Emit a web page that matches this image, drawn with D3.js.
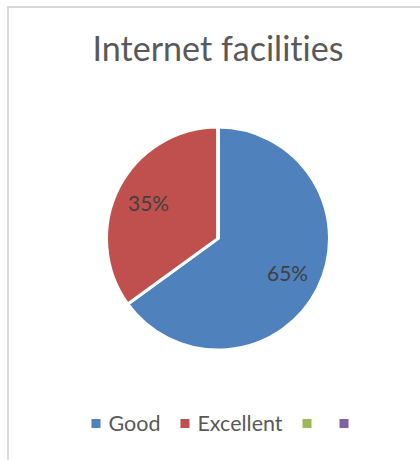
<!DOCTYPE html>
<html>
<head>
<meta charset="utf-8">
<script src="https://cdn.jsdelivr.net/npm/d3@7"></script>
<style>
  body { margin: 0; background: #fff; }
  text { font-family: Lato, "Open Sans", sans-serif; font-variant-ligatures: none; font-feature-settings: "liga" 0; }
</style>
</head>
<body>
<div class="root"></div>
<script>
var title = 'Internet facilities';
var categories = ['Good', 'Excellent', '', ''];
var values = [65, 35, 0, 0];
var colors = ['#4f81bd', '#c0504d', '#9bbb59', '#8064a2'];

function fitFont(sel, target) {
  var w = sel.node().getComputedTextLength();
  var size = parseFloat(sel.attr('font-size'));
  sel.attr('font-size', size * target / w);
}

function runChart() {
  var w = 420;
  var h = 460;
  var cx = 218, cy = 238.5, r = 111.5;

  var svg = d3.select('.root').append('svg')
    .attr('width', w)
    .attr('height', h);

  // chart frame (only top and left edges fall inside the view)
  svg.append('rect')
    .attr('x', 8)
    .attr('y', 7)
    .attr('width', 600)
    .attr('height', 600)
    .attr('fill', 'none')
    .attr('stroke', '#d9d9d9')
    .attr('stroke-width', 2);

  var t = svg.append('text')
    .attr('x', 218)
    .attr('y', 61)
    .attr('text-anchor', 'middle')
    .attr('font-size', 30)
    .attr('fill', '#595959')
    .text(title);
  fitFont(t, 251);

  var data = categories.map(function(c, i) {
    return {name: c, value: values[i], color: colors[i]};
  });

  var pie = d3.pie()
    .sort(null)
    .value(function(d) { return d.value; });

  var arcs = pie(data);
  var total = d3.sum(values);

  var arc = d3.arc().innerRadius(0).outerRadius(r);
  var labelArc = d3.arc().innerRadius(78).outerRadius(78);

  var g = svg.append('g')
    .attr('transform', 'translate(' + cx + ',' + cy + ')');

  g.selectAll('path')
    .data(arcs)
    .enter().append('path')
      .attr('d', arc)
      .attr('fill', function(d) { return d.data.color; })
      .attr('stroke', '#fff')
      .attr('stroke-width', 3)
      .attr('stroke-linejoin', 'miter');

  var labels = g.selectAll('text.lbl')
    .data(arcs.filter(function(d) { return d.data.value > 0; }))
    .enter().append('text')
      .attr('class', 'lbl')
      .attr('transform', function(d) { return 'translate(' + labelArc.centroid(d) + ')'; })
      .attr('dy', '0.36em')
      .attr('text-anchor', 'middle')
      .attr('font-size', 20)
      .attr('fill', '#404040')
      .text(function(d) { return Math.round(d.data.value / total * 100) + '%'; });
  var lw = labels.nodes()[0].getComputedTextLength();
  labels.attr('font-size', 20 * 41 / lw);

  // legend
  var legend = svg.append('g');
  var x = 0;
  var sq = 9, pad = 8, gap = 20;
  var fs = 20;
  data.forEach(function(d) {
    var item = legend.append('g').attr('transform', 'translate(' + x + ',0)');
    item.append('rect')
      .attr('x', 0)
      .attr('y', -12)
      .attr('width', sq)
      .attr('height', sq)
      .attr('fill', d.color);
    var tx = item.append('text')
      .attr('x', sq + pad)
      .attr('y', 0)
      .attr('font-size', fs)
      .attr('fill', '#595959')
      .text(d.name);
    if (d.name === 'Good') {
      fs = fs * 52 / tx.node().getComputedTextLength();
      tx.attr('font-size', fs);
    }
    x += sq + pad + tx.node().getComputedTextLength() + gap;
  });
  var legendW = x - gap - pad;
  legend.attr('transform', 'translate(' + (220 - legendW / 2) + ',431)');
}

window.onload = function() {
  runChart();
};
</script>
</body>
</html>
